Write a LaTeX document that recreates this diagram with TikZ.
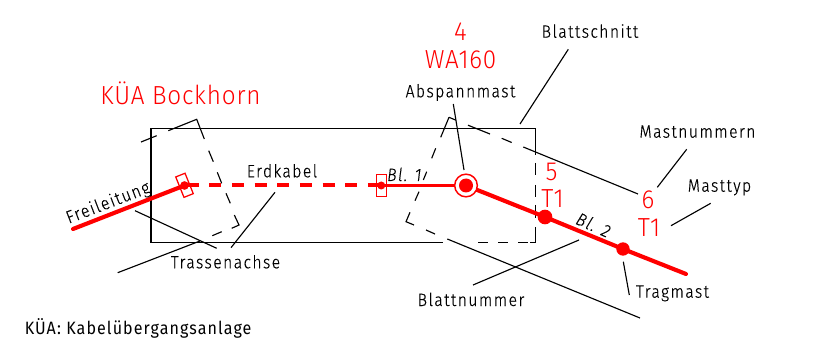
\documentclass[tikz,border=0pt]{standalone}
\usepackage{fontspec}
\setmainfont{Fira Sans Light}[LetterSpace=8,FakeStretch=0.88,FakeBold=0.3]
\newfontfamily\redf{Fira Sans Light}[LetterSpace=3,FakeStretch=0.93]
\newfontfamily\legf{Fira Sans}[LetterSpace=6,FakeStretch=0.9]
\definecolor{rd}{RGB}{255,0,0}
\tikzset{
  lbl/.style={font=\fontsize{13.4pt}{15pt}\selectfont, inner sep=0pt, text=black, anchor=base},
  redlbl/.style={font=\redf\fontsize{19.6pt}{22pt}\selectfont, inner sep=0pt, text=rd, anchor=base},
  lead/.style={draw=black, line width=0.85pt},
  frame/.style={draw=black, line width=0.85pt},
  route/.style={draw=rd, line width=3.1pt, line cap=round},
  cable/.style={draw=rd, line width=3pt, dash pattern=on 9pt off 8pt, dash phase=15.5pt},
  mast/.style={circle, fill=rd, inner sep=0pt},
  muffe/.style={draw=rd, line width=0.95pt, minimum width=7.5pt, minimum height=16.5pt, inner sep=0pt}
}
\begin{document}
\begin{tikzpicture}[x=0.75pt,y=-0.75pt]
\useasboundingbox (0,0) rectangle (827,338);
\fill[white] (0,0) rectangle (827,338);
% frame
\draw[frame] (535.3,155) -- (535.3,128.3) -- (151,128.3) -- (151,242.3) -- (443,242.3);
\draw[frame] (535.3,163) -- (535.3,175);
\draw[frame] (535.3,185) -- (535.3,197);
\draw[frame] (535.3,205) -- (535.3,218);
\draw[frame] (535.3,227) -- (535.3,242.3) -- (530,242.3);
\draw[frame] (518,242.3) -- (528,242.3);
\draw[frame] (498,242.3) -- (508,242.3);
\draw[frame] (478,242.3) -- (488,242.3);
% left sheet cut
\coordinate (la) at (141,142); \coordinate (lb) at (196.7,119.3);
\coordinate (lc) at (239,225); \coordinate (ld) at (117.7,272.7);
\draw[frame] (la) -- (156.7,135.7);
\draw[frame] (168.3,130.7) -- (lb) -- (204.3,139);
\draw[frame] (208.7,150.7) -- (213.3,161.7);
\draw[frame] (217.3,172.3) -- (221.7,183.3);
\draw[frame] (226,193.3) -- (230.3,203.3);
\draw[frame] (234.3,215) -- (lc) -- (231.7,228.3);
\draw[frame] (221.7,231.7) -- (212.3,235.7);
\draw[frame] (200,241) -- (ld);
% right sheet cut
\coordinate (ra) at (638,194); \coordinate (rb) at (449,117.3);
\coordinate (rc) at (406,221.7); \coordinate (re) at (640,318);
\draw[frame] (rb) -- (456,120.2);
\draw[frame] (468,125.2) -- (490,134);
\draw[frame] (501.7,138.3) -- (511.7,142.5);
\draw[frame] (523.3,147) -- (ra);
\draw[frame] (rb) -- (440.7,137.3);
\draw[frame] (435.7,148.3) -- (431.7,158.3);
\draw[frame] (426.7,171.7) -- (423.3,180);
\draw[frame] (419,191.7) -- (415,200.7);
\draw[frame] (410,212.3) -- (rc) -- (414,225);
\draw[frame] (426,230) -- (435,234);
\draw[frame] (447.3,239) -- (re);
% route
\node[mast, minimum size=6.5pt] (m1) at (184.5,185.5) {};
\node[mast, minimum size=6pt] (m2) at (381.3,185.5) {};
\node[mast, minimum size=10.5pt] (m4) at (466,185.5) {};
\node[mast, minimum size=11pt] (m5) at (545,217) {};
\node[mast, minimum size=10pt] (m6) at (623,249) {};
\coordinate (w) at (73,229); \coordinate (e) at (686,274);
\draw[route] (w) -- (m1.center);
\draw[cable] (m1.center) -- (m2.center);
\draw[route,line cap=butt,line width=2.6pt] (m2.center) -- (m4.center);
\draw[route] (m4.center) -- (m5.center) -- (m6.center) -- (e);
\node[circle, draw=rd, line width=1.1pt, fill=white, minimum size=17pt, inner sep=0pt] (ring) at (466,185.5) {};
\node[mast, minimum size=10.5pt] at (466,185.5) {};
\node[muffe, rotate=22] (q1) at (184.5,185.3) {};
\node[muffe] (q2) at (381.3,185.5) {};
% labels
\node[redlbl] (kua) at (180.5,105) {KÜA Bockhorn};
\node[redlbl] (n4) at (460.5,40.7) {4};
\node[redlbl] (t4) at (460.5,68.3) {WA160};
\node[redlbl] (n5) at (551.5,181) {5};
\node[redlbl] (t5) at (552.5,207.3) {T1};
\node[redlbl] (n6) at (648,208.3) {6};
\node[redlbl] (t6) at (649,236.7) {T1};
\node[lbl] (blattschnitt) at (590,37.7) {Blattschnitt};
\node[lbl] (abspann) at (460.5,97.3) {Abspannmast};
\node[lbl] (mastnr) at (697.5,137.7) {Mastnummern};
\node[lbl] (masttyp) at (719.5,191.7) {Masttyp};
\node[lbl] (erdkabel) at (282,177.3) {Erdkabel};
\node[lbl] (trasse) at (225.5,268.3) {Trassenachse};
\node[lbl] (blattnr) at (471,306) {Blattnummer};
\node[lbl] (tragmast) at (672.5,297.7) {Tragmast};
\node[lbl, rotate=21] (freil) at (110,208) {Freileitung};
\node[lbl] (bl1) at (405,181) {\textit{Bl. 1}};
\node[lbl, rotate=-24] (bl2) at (591.5,231) {\textit{Bl. 2}};
\node[lbl, anchor=base west, font=\legf\fontsize{13.4pt}{15pt}\selectfont] (legend) at (24.5,334.3) {KÜA: Kabelübergangsanlage};
% leaders
\draw[lead] (135,210.7) -- (216.7,248.3);
\draw[lead] (275,192.3) -- (231,247.7);
\draw[lead] (453.3,104) -- (464,170);
\draw[lead] (568.3,49.3) -- (520,124);
\draw[lead] (686.7,149.3) -- (657.3,187.3);
\draw[lead] (710.7,203.3) -- (671,225.7);
\draw[lead] (623.3,261.7) -- (629.3,295);
\draw[lead] (579,240) -- (473,285);
\end{tikzpicture}
\end{document}
